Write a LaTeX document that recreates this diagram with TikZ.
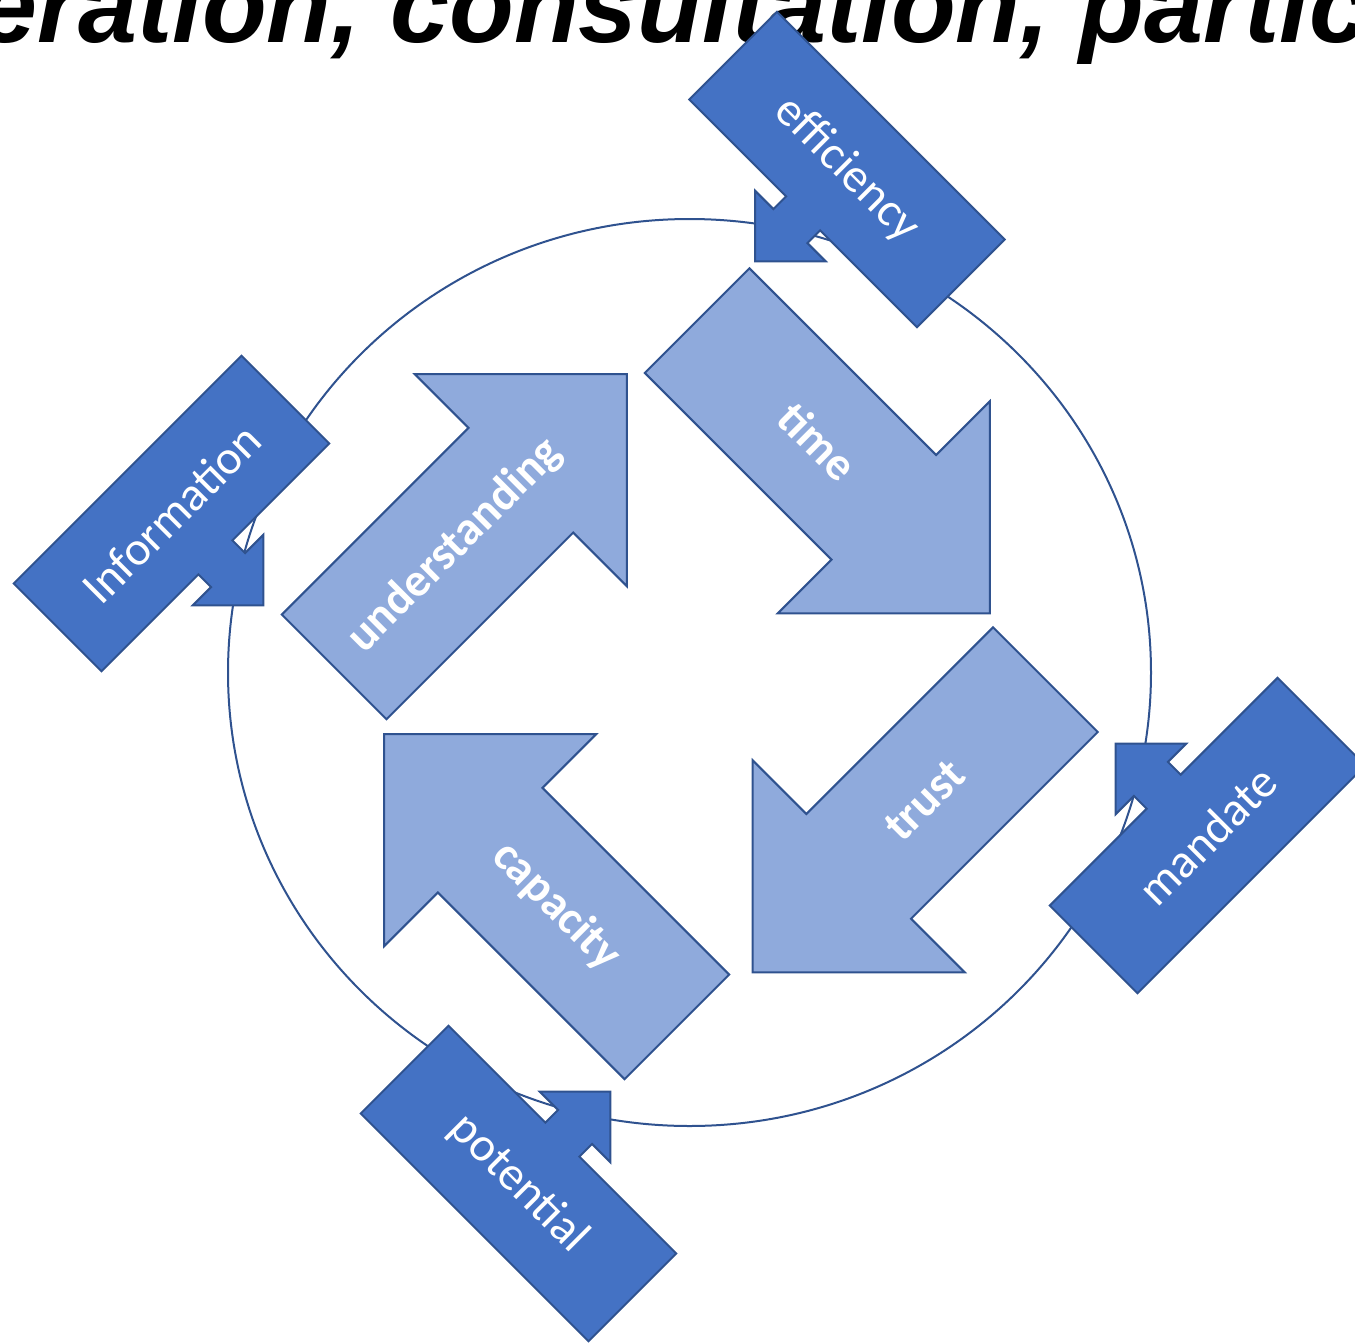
\documentclass[tikz,border=0pt]{standalone}
\usepackage{fontspec}
\setmainfont{Carlito}
\newfontfamily\headfont{Liberation Sans}
\usepackage{tikz}
\usetikzlibrary{calc,positioning}
\definecolor{calloutblue}{HTML}{4472C4}
\definecolor{arrowblue}{HTML}{8FAADC}
\definecolor{lineblue}{HTML}{2F528F}

\begin{document}
\begin{tikzpicture}[x=1pt,y=-1pt,
    bigarrow/.style={fill=arrowblue,draw=lineblue,line width=2pt},
    calloutbox/.style={fill=calloutblue,draw=lineblue,line width=2pt},
    arrowlabel/.style={text=white,inner sep=0pt,font=\fontsize{47}{47}\selectfont\bfseries},
    calloutlabel/.style={text=white,inner sep=0pt,font=\fontsize{48}{48}\selectfont}]
    \useasboundingbox (0,0) rectangle (1355,1342);

    \node[anchor=base west,inner sep=0pt,font=\headfont\fontsize{106}{106}\selectfont\bfseries\itshape] (title) at (-22,42) {eration, consultation, partic};

    \coordinate (centre) at (689.5,672.5);
    \draw[lineblue,line width=2pt] (centre) ellipse [x radius=461.5pt,y radius=453.5pt];

    \foreach \cx/\cy/\dir/\rot/\word in {843.5/467/-45/-45/time, 899/826/-135/45/trust, 530.5/880.5/135/-45/capacity, 480.5/520.5/45/45/understanding}{
        \begin{scope}[shift={(\cx,\cy)},rotate=\dir]
            \draw[bigarrow] (-207,-74) -- (57,-74) -- (57,-150) -- (207,0) -- (57,150) -- (57,74) -- (-207,74) -- cycle;
            \node[arrowlabel,rotate=\rot] (arrow-\word) at (-36,0) {\word};
        \end{scope}
    }

    \foreach \cx/\cy/\dir/\side/\word in {847/169.5/-45/1/efficiency, 171.5/513.5/45/1/Information, 1207.5/835.5/45/-1/mandate, 518.5/1183.5/-45/-1/potential}{
        \begin{scope}[shift={(\cx,\cy)},rotate=\dir]
            \draw[calloutbox,yscale=\side] (-161,-62) -- (161,-62) -- (161,62) -- (24,62) -- (24,80) -- (50,80) -- (0,130) -- (-50,80) -- (-24,80) -- (-24,62) -- (-161,62) -- cycle;
            \node[calloutlabel,rotate=\dir] (callout-\word) at (0,0) {\word};
        \end{scope}
    }
\end{tikzpicture}
\end{document}
